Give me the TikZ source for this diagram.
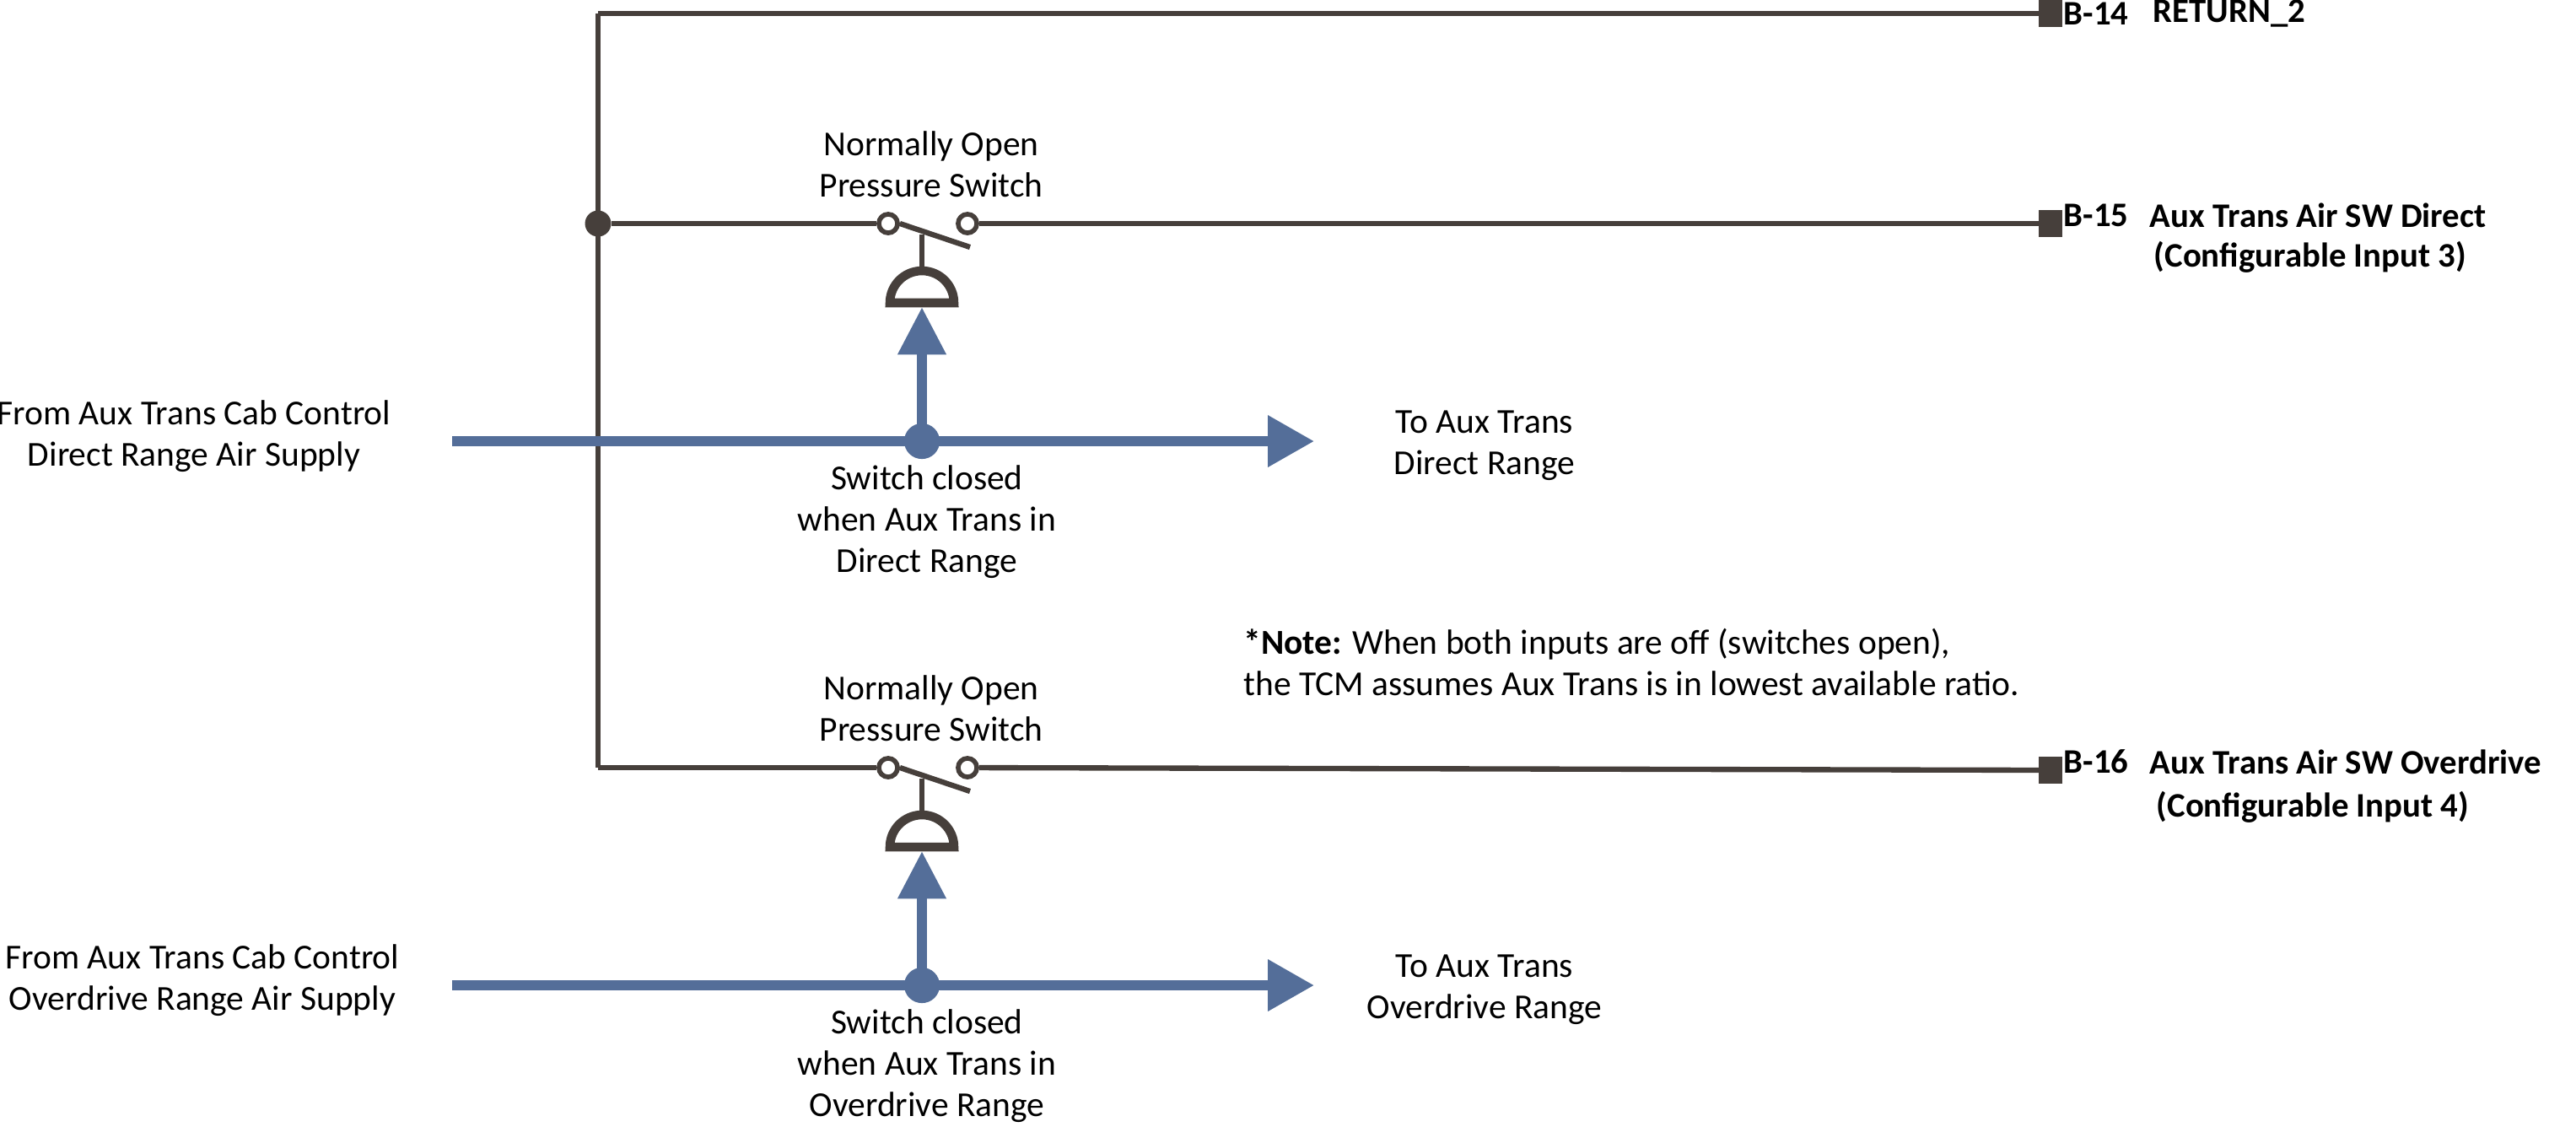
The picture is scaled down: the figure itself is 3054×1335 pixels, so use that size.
\documentclass[tikz,border=0pt]{standalone}
\usepackage{fontspec}
\setmainfont{Carlito}
\usetikzlibrary{arrows.meta}
\definecolor{wire}{HTML}{463F3B}
\definecolor{air}{HTML}{546E99}
\begin{document}
\begin{tikzpicture}[x=0.01cm,y=-0.01cm,
  w/.style={draw=wire,line width=1.8pt},
  a/.style={draw=air,line width=3.4pt},
  txt/.style={font=\fontsize{11.8}{13.9}\selectfont,align=center,text=black},
  lbl/.style={font=\fontsize{11.6}{13.9}\selectfont\bfseries,anchor=west,text=black,inner sep=0},
  term/.style={fill=wire,minimum width=8pt,minimum height=9pt,inner sep=0,outer sep=0},
  sc/.style={circle,draw=wire,line width=1.6pt,fill=white,minimum size=6.3pt,inner sep=0}]
\useasboundingbox (0,0) rectangle (3054,1335);
% bus
\coordinate (bt) at (709,16);
\coordinate (bb) at (709,910);
\draw[w] (bt) -- (bb);
\node[term] (t14) at (2431,16) {};
\draw[w] (bt) -- (t14);
\node[lbl] at (2446,16) {B-14};
\node[lbl] at (2552,16) {RETURN\_2};
\node[term] (t15) at (2431,265) {};
\node[lbl] at (2446,255) {B-15};
\node[lbl] at (2548,255) {Aux Trans Air SW Direct};
\node[lbl] at (2553,305) {(Configurable Input 3)};
\node[term] (t16) at (2431,913) {};
\node[lbl] at (2446,903) {B-16};
\node[lbl] at (2548,903) {Aux Trans Air SW Overdrive};
\node[lbl] at (2556,957) {(Configurable Input 4)};
\node[circle,fill=wire,minimum size=8.8pt,inner sep=0] (j) at (709,265) {};
% switches
\foreach \dy/\n/\rng in {0/1/Direct,645/2/Overdrive}{
  \begin{scope}[yshift=-\dy*0.01cm]
  \node[sc] (c\n) at (1053,265) {};
  \node[sc] (d\n) at (1147,265) {};
  \coordinate (l\n) at (1150,293);
  \draw[w] (c\n.east) -- (l\n);
  \draw[w] (1093,278) -- (1093,320);
  \draw[w,line width=3pt] (1055,359) arc (180:360:38) -- cycle;
  \node[circle,fill=air,minimum size=12pt,inner sep=0] (p\n) at (1093,523) {};
  \coordinate (s\n) at (536,523);
  \coordinate (e\n) at (1558,523);
  \coordinate (u\n) at (1093,364);
  \draw[a,-{Triangle[length=15.6pt,width=16.6pt]}] (s\n) -- (e\n);
  \draw[a,-{Triangle[length=16pt,width=15.5pt]}] (p\n.center) -- (u\n);
  \node[txt] at (1104,195) {Normally Open\\Pressure Switch};
  \node[txt] at (1099,619) {Switch closed\\when Aux Trans in\\\rng\ Range};
  \node[txt] at (1760,528) {To Aux Trans\\\rng\ Range};
  \end{scope}
}
\draw[w] (j) -- (c1);
\draw[w] (d1) -- (t15);
\draw[w] (709,910) -- (c2);
\draw[w] (d2) -- (t16);
\node[txt] at (230,517) {From Aux Trans Cab Control\\Direct Range Air Supply};
\node[txt] at (240,1162) {From Aux Trans Cab Control\\Overdrive Range Air Supply};
\node[txt,align=left,anchor=west] at (1462,785) {\textbf{*Note:} When both inputs are off (switches open),\\the TCM assumes Aux Trans is in lowest available ratio.};
\end{tikzpicture}
\end{document}
